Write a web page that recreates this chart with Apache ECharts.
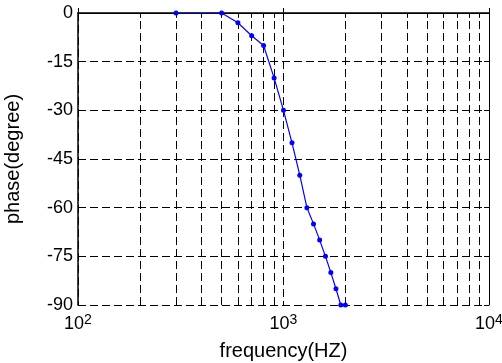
<!DOCTYPE html>
<html>
<head>
<meta charset="utf-8">
<script src="https://cdn.jsdelivr.net/npm/echarts@6/dist/echarts.min.js"></script>
<style>
  html, body { margin: 0; padding: 0; background: #fff; }
  #chart { width: 502px; height: 363px; }
</style>
</head>
<body>
<div id="chart"></div>
<script>
// measured points (Hz, degrees)
var freqHz = [300, 500, 600, 700, 800, 900, 1000, 1100, 1200, 1300, 1400, 1500, 1600, 1700, 1800, 1900, 2000];
var phaseDeg = [0, 0, -3, -7, -10, -20, -30, -40, -50, -60, -65, -70, -75, -80, -85, -90, -90];

// log grid lines / minor ticks between the decades
var xMinorGrid = [200, 300, 400, 500, 600, 700, 800, 900, 2000, 3000, 4000, 5000, 6000, 7000, 8000, 9000];

var FONT = '"Liberation Sans", Arial, Helvetica, sans-serif';
var dash = { type: [8, 4], color: '#000', width: 1 };
var TICK_DEG = 1.5; // minor tick length, in degrees of the y scale

// short inside ticks on the bottom and top edges at the minor positions
var minorTickLines = [];
xMinorGrid.forEach(function (v) {
    minorTickLines.push([{ coord: [v, -90] }, { coord: [v, -90 + TICK_DEG] }]);
    minorTickLines.push([{ coord: [v, 0] }, { coord: [v, -TICK_DEG] }]);
});

var chart = echarts.init(document.getElementById('chart'));

chart.setOption({
    animation: false,
    backgroundColor: '#fff',
    textStyle: { fontFamily: FONT },
    grid: { left: 78, right: 13, top: 13, bottom: 58, outerBoundsMode: 'none', containLabel: false },
    xAxis: [
        {
            type: 'log',
            logBase: 10,
            min: 100,
            max: 10000,
            name: 'frequency(HZ)',
            nameLocation: 'middle',
            nameGap: 36,
            nameTextStyle: { color: '#000', fontSize: 20, fontFamily: FONT },
            axisLine: { lineStyle: { color: '#000', width: 1.5 } },
            axisTick: { inside: true, length: 5, lineStyle: { color: '#000' } },
            axisLabel: {
                margin: 8,
                formatter: function (v) {
                    return '{b|10}{e|' + Math.round(Math.log10(v)) + '}';
                },
                rich: {
                    b: { fontSize: 18, fontFamily: FONT, color: '#000', lineHeight: 20, padding: [7, 0, 0, 0], verticalAlign: 'bottom' },
                    e: { fontSize: 14, fontFamily: FONT, color: '#000', lineHeight: 14, verticalAlign: 'top' }
                }
            },
            splitLine: { show: true, lineStyle: dash }
        },
        {
            type: 'log',
            logBase: 10,
            min: 100,
            max: 10000,
            position: 'top',
            axisLine: { lineStyle: { color: '#000', width: 1 } },
            axisTick: { inside: true, length: 5, lineStyle: { color: '#000' } },
            axisLabel: { show: false },
            splitLine: { show: false }
        }
    ],
    yAxis: [
        {
            type: 'value',
            min: -90,
            max: 0,
            interval: 15,
            name: 'phase(degree)',
            nameLocation: 'middle',
            nameRotate: 90,
            nameGap: 55,
            nameTextStyle: { color: '#000', fontSize: 20, fontFamily: FONT },
            axisLine: { show: true, lineStyle: { color: '#000', width: 1.5 } },
            axisTick: { show: true, inside: true, length: 5, lineStyle: { color: '#000' } },
            axisLabel: { color: '#000', fontSize: 18, margin: 5, fontFamily: FONT },
            splitLine: { show: true, lineStyle: dash }
        },
        {
            type: 'value',
            min: -90,
            max: 0,
            interval: 15,
            position: 'right',
            axisLine: { show: true, lineStyle: { color: '#000', width: 1 } },
            axisTick: { show: true, inside: true, length: 5, lineStyle: { color: '#000' } },
            axisLabel: { show: false },
            splitLine: { show: false }
        }
    ],
    series: [
        {
            type: 'line',
            data: freqHz.map(function (f, i) { return [f, phaseDeg[i]]; }),
            symbol: 'circle',
            symbolSize: 5,
            showSymbol: true,
            itemStyle: { color: '#0000ff' },
            lineStyle: { color: '#0000ff', width: 1.2 },
            z: 5,
            markLine: {
                silent: true,
                symbol: 'none',
                label: { show: false },
                lineStyle: dash,
                emphasis: { disabled: true },
                data: xMinorGrid.map(function (v) { return { xAxis: v }; }),
                z: 1
            }
        },
        {
            // carrier for the solid minor ticks
            type: 'line',
            data: [],
            markLine: {
                silent: true,
                symbol: 'none',
                label: { show: false },
                lineStyle: { type: 'solid', color: '#000', width: 1 },
                emphasis: { disabled: true },
                data: minorTickLines
            }
        }
    ]
});
</script>
</body>
</html>
